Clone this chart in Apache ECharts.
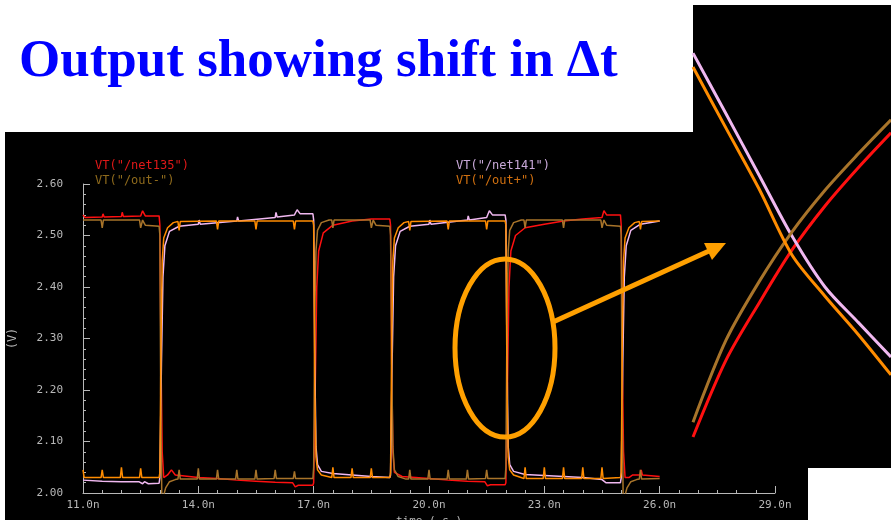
<!DOCTYPE html>
<html>
<head>
<meta charset="utf-8">
<title>Output showing shift in Δt</title>
<script src="https://cdn.jsdelivr.net/npm/echarts@6/dist/echarts.min.js"></script>
<style>
    html, body { margin: 0; padding: 0; background: #fff; }
    #main { width: 891px; height: 520px; }
</style>
</head>
<body>
<div id="main"></div>
<script>
// 刻度
var xTicks = { min: 11, max: 29, step: 3 };
var yTicks = { min: 2.0, max: 2.6, step: 0.1 };

// 波形数据 [时间(ns), 电压(V)]
var net135 = [
    [11.00,2.540],[11.05,2.535],[11.50,2.536],[11.52,2.542],[11.55,2.536],[12.00,2.537],[12.02,2.545],[12.05,2.537],
    [12.50,2.538],[12.55,2.548],[12.62,2.538],[12.98,2.538],
    [13.00,2.520],[13.03,2.250],[13.06,2.080],[13.10,2.030],[13.20,2.035],[13.30,2.045],[13.40,2.035],[14.00,2.030],
    [14.50,2.028],[15.00,2.025],[15.50,2.023],[16.00,2.021],[16.45,2.020],[16.52,2.012],[16.60,2.015],[16.98,2.015],
    [17.00,2.020],[17.04,2.200],[17.08,2.400],[17.13,2.470],[17.25,2.505],[17.50,2.520],[18.00,2.528],[18.50,2.532],[18.98,2.532],
    [19.00,2.520],[19.03,2.250],[19.06,2.080],[19.10,2.040],[19.30,2.032],[20.00,2.028],[20.50,2.025],[21.00,2.023],
    [21.45,2.022],[21.52,2.014],[21.60,2.016],[21.98,2.016],
    [22.00,2.020],[22.04,2.200],[22.08,2.400],[22.13,2.470],[22.25,2.500],[22.50,2.515],[23.00,2.522],[23.50,2.528],
    [24.00,2.532],[24.50,2.535],[24.55,2.548],[24.62,2.540],[24.98,2.540],
    [25.00,2.520],[25.03,2.250],[25.06,2.080],[25.10,2.030],[25.20,2.030],[25.30,2.035],[25.50,2.035],[25.52,2.045],[25.55,2.035],[26.00,2.032]
];
var outMinus = [
    [11.00,2.530],[11.47,2.530],[11.50,2.515],[11.53,2.530],[12.47,2.530],[12.50,2.515],[12.55,2.530],[12.62,2.520],[12.98,2.518],
    [13.00,2.500],[13.02,2.200],[13.05,1.995],[13.08,1.990],[13.15,2.010],[13.25,2.022],[13.40,2.026],
    [13.47,2.027],[13.50,2.045],[13.53,2.027],[13.97,2.027],[14.00,2.048],[14.03,2.027],[14.47,2.027],[14.50,2.045],[14.53,2.027],
    [14.97,2.027],[15.00,2.045],[15.03,2.027],[15.47,2.027],[15.50,2.045],[15.53,2.027],[15.97,2.028],[16.00,2.045],[16.03,2.028],
    [16.47,2.028],[16.50,2.042],[16.53,2.028],[16.98,2.028],
    [17.00,2.050],[17.03,2.350],[17.06,2.470],[17.10,2.510],[17.20,2.525],[17.40,2.530],
    [17.47,2.530],[17.50,2.515],[17.53,2.530],[18.47,2.530],[18.50,2.515],[18.55,2.530],[18.62,2.520],[18.98,2.518],
    [19.00,2.500],[19.03,2.250],[19.06,2.090],[19.10,2.045],[19.20,2.032],[19.40,2.027],
    [19.47,2.027],[19.50,2.045],[19.53,2.027],[19.97,2.027],[20.00,2.045],[20.03,2.027],[20.47,2.027],[20.50,2.045],[20.53,2.027],
    [20.97,2.027],[21.00,2.045],[21.03,2.027],[21.47,2.028],[21.50,2.045],[21.53,2.028],[21.98,2.028],
    [22.00,2.050],[22.03,2.350],[22.06,2.470],[22.10,2.510],[22.20,2.525],[22.40,2.530],
    [22.47,2.530],[22.50,2.515],[22.53,2.530],[23.47,2.530],[23.50,2.515],[23.53,2.530],[24.47,2.530],[24.50,2.515],[24.55,2.530],
    [24.62,2.520],[24.98,2.518],
    [25.00,2.500],[25.02,2.200],[25.05,1.995],[25.08,1.990],[25.15,2.010],[25.25,2.022],[25.40,2.026],
    [25.47,2.027],[25.50,2.045],[25.53,2.027],[26.00,2.028]
];
var net141 = [
    [11.00,2.025],[11.50,2.023],[12.00,2.022],[12.45,2.022],[12.55,2.018],[12.60,2.022],[12.70,2.018],[12.98,2.019],
    [13.00,2.030],[13.04,2.250],[13.08,2.420],[13.13,2.480],[13.25,2.508],[13.50,2.518],[14.00,2.522],[14.02,2.530],[14.05,2.522],
    [15.00,2.528],[15.02,2.536],[15.05,2.528],[16.00,2.535],[16.02,2.545],[16.05,2.536],[16.50,2.540],[16.57,2.550],[16.65,2.542],[16.98,2.542],
    [17.00,2.530],[17.03,2.250],[17.06,2.090],[17.10,2.055],[17.20,2.042],[17.50,2.038],[18.00,2.035],[18.50,2.032],[18.98,2.030],
    [19.00,2.035],[19.04,2.250],[19.08,2.420],[19.13,2.480],[19.25,2.508],[19.50,2.518],[20.00,2.522],[20.02,2.530],[20.05,2.522],
    [21.00,2.530],[21.02,2.538],[21.05,2.530],[21.50,2.535],[21.57,2.548],[21.65,2.540],[21.98,2.540],
    [22.00,2.530],[22.03,2.250],[22.06,2.090],[22.10,2.055],[22.20,2.042],[22.50,2.036],[23.00,2.034],[23.50,2.032],[24.00,2.030],
    [24.50,2.026],[24.60,2.020],[24.98,2.020],
    [25.00,2.030],[25.04,2.250],[25.08,2.420],[25.13,2.480],[25.25,2.510],[25.50,2.522],[26.00,2.528]
];
var outPlus = [
    [11.00,2.045],[11.03,2.030],[11.47,2.030],[11.50,2.045],[11.53,2.030],[11.97,2.030],[12.00,2.050],[12.03,2.030],
    [12.47,2.030],[12.50,2.048],[12.53,2.030],[12.98,2.030],
    [13.00,2.040],[13.03,2.300],[13.06,2.450],[13.10,2.495],[13.20,2.515],[13.35,2.525],
    [13.47,2.527],[13.50,2.510],[13.53,2.527],[14.47,2.528],[14.50,2.512],[14.53,2.528],[15.47,2.528],[15.50,2.512],[15.53,2.528],
    [16.47,2.528],[16.50,2.512],[16.53,2.528],[16.98,2.528],
    [17.00,2.520],[17.03,2.200],[17.06,2.070],[17.10,2.045],[17.20,2.035],
    [17.47,2.030],[17.50,2.050],[17.53,2.030],[17.97,2.030],[18.00,2.048],[18.03,2.030],[18.47,2.030],[18.50,2.048],[18.53,2.030],[18.98,2.030],
    [19.00,2.040],[19.03,2.300],[19.06,2.450],[19.10,2.495],[19.20,2.515],[19.35,2.525],
    [19.47,2.527],[19.50,2.510],[19.53,2.527],[20.47,2.528],[20.50,2.512],[20.53,2.528],[21.47,2.528],[21.50,2.512],[21.53,2.528],[21.98,2.528],
    [22.00,2.520],[22.03,2.200],[22.06,2.070],[22.10,2.045],[22.20,2.035],
    [22.47,2.028],[22.50,2.050],[22.53,2.028],[22.97,2.028],[23.00,2.050],[23.03,2.028],[23.47,2.028],[23.50,2.050],[23.53,2.028],
    [23.97,2.028],[24.00,2.050],[24.03,2.028],[24.47,2.028],[24.50,2.050],[24.53,2.028],[24.98,2.030],
    [25.00,2.040],[25.03,2.300],[25.06,2.450],[25.10,2.495],[25.20,2.515],[25.35,2.525],
    [25.47,2.527],[25.50,2.512],[25.53,2.527],[26.00,2.528]
];

// 放大图 (22.0n 附近的交叉点), 时间单位 ps
var zoomTime = [0, 10, 20, 30, 40, 50, 60];
var zoomNet141 = [2.3896, 2.3765, 2.3633, 2.3501, 2.3391, 2.3315, 2.3240];
var zoomOutPlus = [2.3866, 2.3734, 2.3603, 2.3460, 2.3371, 2.3289, 2.3201];
var zoomOutMinus = [2.3099, 2.3276, 2.3402, 2.3510, 2.3600, 2.3678, 2.3752];
var zoomNet135 = [2.3067, 2.3233, 2.3356, 2.3471, 2.3566, 2.3648, 2.3724];

var names = ['VT("/net135")', 'VT("/out-")', 'VT("/net141")', 'VT("/out+")'];
var colors = ['#ff1010', '#a8742a', '#f0b8f0', '#ff8c00'];
var legendColors = ['#e01818', '#8e6a1c', '#c8a8d8', '#d07010'];

function pairs(xs, ys) {
    var out = [];
    for (var i = 0; i < xs.length; i++) out.push([xs[i], ys[i]]);
    return out;
}

var mono = 'DejaVu Sans Mono';
var axisGray = '#b8b8b8';

var myChart = echarts.init(document.getElementById('main'));
var option = {
    backgroundColor: '#ffffff',
    animation: false,
    title: {
        text: 'Output showing shift in Δt',
        left: 14,
        top: 31,
        textStyle: {
            fontFamily: 'Liberation Serif',
            fontWeight: 'bold',
            fontSize: 53,
            color: '#0000ff'
        }
    },
    legend: [{
        orient: 'vertical',
        left: 84,
        top: 155,
        itemWidth: 0,
        itemHeight: 0,
        itemGap: 3,
        selectedMode: false,
        textStyle: { fontFamily: mono, fontSize: 12 },
        data: [
            { name: names[0], textStyle: { color: legendColors[0] } },
            { name: names[1], textStyle: { color: legendColors[1] } }
        ]
    }, {
        orient: 'vertical',
        left: 445,
        top: 155,
        itemWidth: 0,
        itemHeight: 0,
        itemGap: 3,
        selectedMode: false,
        textStyle: { fontFamily: mono, fontSize: 12 },
        data: [
            { name: names[2], textStyle: { color: legendColors[2] } },
            { name: names[3], textStyle: { color: legendColors[3] } }
        ]
    }],
    grid: [
        { left: 83, top: 184, width: 692, height: 309, containLabel: false, outerBoundsMode: 'none' },
        { left: 693, top: 5, width: 198, height: 463, containLabel: false, outerBoundsMode: 'none' }
    ],
    xAxis: [{
        gridIndex: 0,
        type: 'value',
        min: xTicks.min,
        max: xTicks.max,
        interval: xTicks.step,
        name: 'time ( s )',
        nameLocation: 'middle',
        nameGap: 22,
        nameTextStyle: { color: axisGray, fontFamily: mono, fontSize: 11 },
        axisLine: { lineStyle: { color: axisGray, width: 1 } },
        axisTick: { inside: true, length: 7, lineStyle: { color: axisGray } },
        minorTick: { show: true, splitNumber: 6, length: 3, lineStyle: { color: axisGray } },
        splitLine: { show: false },
        axisLabel: {
            color: axisGray, fontFamily: mono, fontSize: 11, margin: 7,
            formatter: function (v) { return v.toFixed(1) + 'n'; }
        }
    }, {
        gridIndex: 1,
        type: 'value',
        min: 0,
        max: 60,
        show: false
    }],
    yAxis: [{
        gridIndex: 0,
        type: 'value',
        min: yTicks.min,
        max: yTicks.max,
        interval: yTicks.step,
        name: '(V)',
        nameLocation: 'middle',
        nameRotate: 90,
        nameGap: 64,
        nameTextStyle: { color: axisGray, fontFamily: mono, fontSize: 12 },
        axisLine: { show: true, lineStyle: { color: axisGray, width: 1 } },
        axisTick: { show: true, inside: true, length: 7, lineStyle: { color: axisGray } },
        minorTick: { show: true, splitNumber: 5, length: 3, lineStyle: { color: axisGray } },
        splitLine: { show: false },
        axisLabel: {
            color: axisGray, fontFamily: mono, fontSize: 11, margin: 20,
            formatter: function (v) { return v.toFixed(2); }
        }
    }, {
        gridIndex: 1,
        type: 'value',
        min: 2.30,
        max: 2.40,
        show: false
    }],
    series: [
        { name: names[0], type: 'line', xAxisIndex: 0, yAxisIndex: 0, data: net135, symbol: 'none', lineStyle: { color: colors[0], width: 1.5 }, itemStyle: { color: colors[0] } },
        { name: names[2], type: 'line', xAxisIndex: 0, yAxisIndex: 0, data: net141, symbol: 'none', lineStyle: { color: colors[2], width: 1.5 }, itemStyle: { color: colors[2] } },
        { name: names[1], type: 'line', xAxisIndex: 0, yAxisIndex: 0, data: outMinus, symbol: 'none', lineStyle: { color: colors[1], width: 1.5 }, itemStyle: { color: colors[1] } },
        { name: names[3], type: 'line', xAxisIndex: 0, yAxisIndex: 0, data: outPlus, symbol: 'none', lineStyle: { color: colors[3], width: 1.5 }, itemStyle: { color: colors[3] } },
        // 放大图
        { name: names[0], type: 'line', xAxisIndex: 1, yAxisIndex: 1, data: pairs(zoomTime, zoomNet135), smooth: 0.3, symbol: 'none', lineStyle: { color: colors[0], width: 3 } },
        { name: names[2], type: 'line', xAxisIndex: 1, yAxisIndex: 1, data: pairs(zoomTime, zoomNet141), smooth: 0.3, symbol: 'none', lineStyle: { color: colors[2], width: 3 } },
        { name: names[1], type: 'line', xAxisIndex: 1, yAxisIndex: 1, data: pairs(zoomTime, zoomOutMinus), smooth: 0.3, symbol: 'none', lineStyle: { color: colors[1], width: 3 } },
        { name: names[3], type: 'line', xAxisIndex: 1, yAxisIndex: 1, data: pairs(zoomTime, zoomOutPlus), smooth: 0.3, symbol: 'none', lineStyle: { color: colors[3], width: 3 } }
    ],
    graphic: [
        // 黑色背景
        { type: 'rect', z: -10, shape: { x: 5, y: 132, width: 803, height: 388 }, style: { fill: '#000' } },
        { type: 'rect', z: -10, shape: { x: 693, y: 5, width: 198, height: 463 }, style: { fill: '#000' } },
        // 标注: 椭圆和箭头
        { type: 'ellipse', z: 100, shape: { cx: 505, cy: 348, rx: 50, ry: 89 }, style: { fill: 'none', stroke: '#ffa000', lineWidth: 5 } },
        { type: 'line', z: 100, shape: { x1: 553, y1: 322, x2: 709, y2: 251 }, style: { stroke: '#ffa000', lineWidth: 5 } },
        { type: 'polygon', z: 100, shape: { points: [[726, 243], [712, 260], [704, 243]] }, style: { fill: '#ffa000' } }
    ]
};
if (option && typeof option === "object") {
    myChart.setOption(option, true);
}
</script>
</body>
</html>
